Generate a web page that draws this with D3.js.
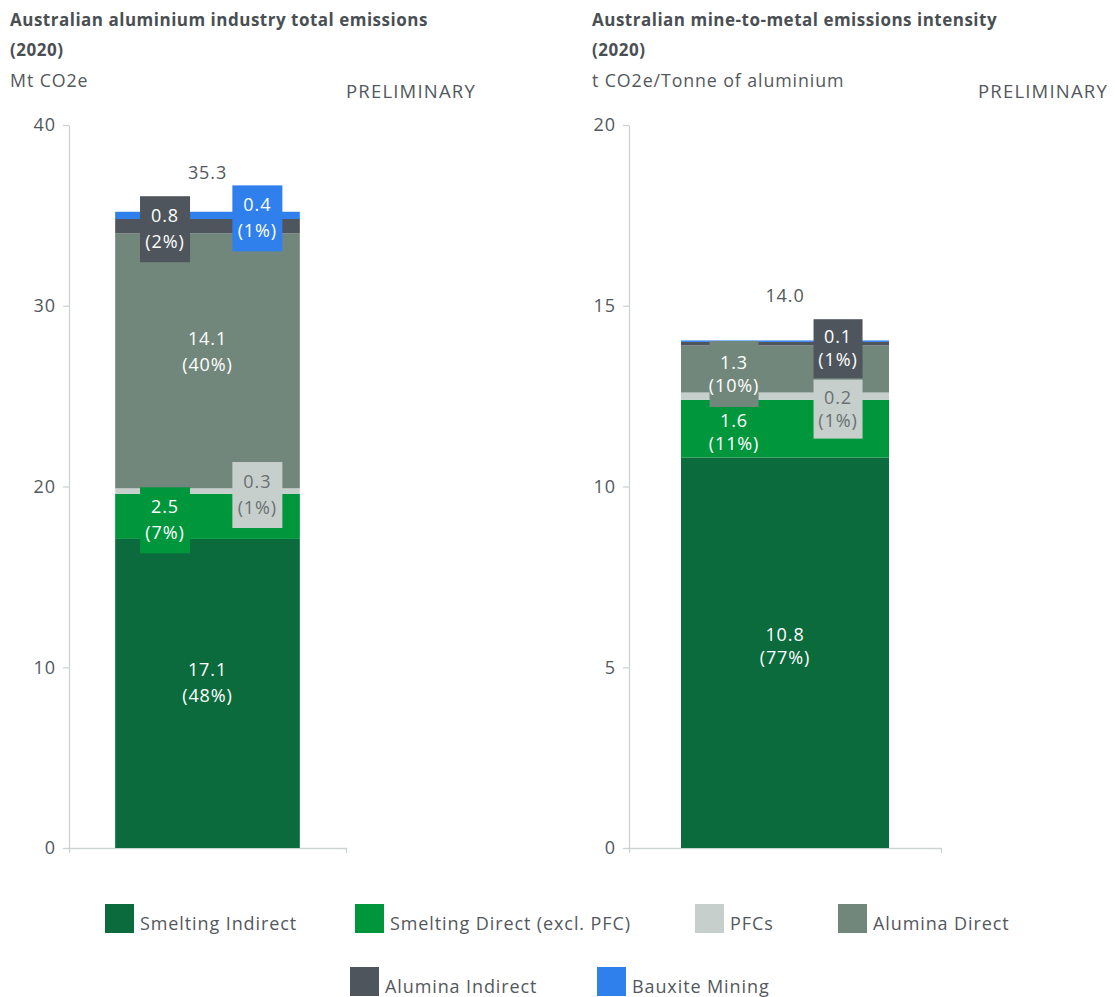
<!DOCTYPE html>
<html>
<head>
<meta charset="utf-8">
<script src="https://cdn.jsdelivr.net/npm/d3@7"></script>
<style>
  html, body { margin: 0; padding: 0; background: #fff; }
  svg { display: block; font-family: "Open Sans", "DejaVu Sans", sans-serif; letter-spacing: 0.9px; }
</style>
</head>
<body>
<svg id="chart" width="1115" height="997"></svg>
<script>
// Emission sources, stacked from the bottom up
const sources = ["Smelting Indirect", "Smelting Direct (excl. PFC)", "PFCs", "Alumina Direct", "Alumina Indirect", "Bauxite Mining"];
const sourceColors = ["#0b6b3c", "#00963c", "#c6cfcc", "#72877b", "#4f555c", "#2f80ec"];

// Total emissions, Mt CO2e (2020)
const totalValues = [17.1, 2.5, 0.3, 14.1, 0.8, 0.4];
const totalShares = [48, 7, 1, 40, 2, 1];
const totalSum = 35.3;
const totalTicks = [0, 10, 20, 30, 40];

// Mine-to-metal intensity, t CO2e per tonne of aluminium (2020)
const intensityValues = [10.8, 1.6, 0.2, 1.3, 0.1, 0.04];
const intensityShares = [77, 11, 1, 10, 1, null];
const intensitySum = 14.0;
const intensityTicks = [0, 5, 10, 15, 20];

const textColor = "#53585d";
const axisColor = "#cdd3d3";

const svg = d3.select("#chart");

// Label placement per segment: plain text or a boxed tag to one side
const totalLabelLayout = [
  { mode: "plain", pos: 0.5, dy: -10 },
  { mode: "box", pos: 0.27, dy: 4 },
  { mode: "box", pos: 0.77, dy: 4 },
  { mode: "plain", pos: 0.5, dy: -9 },
  { mode: "box", pos: 0.27, dy: 3 },
  { mode: "box", pos: 0.77, dy: 3 }
];
const intensityLabelLayout = [
  { mode: "plain", pos: 0.5, dy: -6 },
  { mode: "plain", pos: 0.255, dy: 4 },
  { mode: "box", pos: 0.755, dy: 13 },
  { mode: "box", pos: 0.255, dy: 5, h: 66 },
  { mode: "box", pos: 0.755, dy: 5 },
  { mode: "none" }
];

function drawPanel(opt) {
  const g = svg.append("g");

  // Headings
  g.append("text").attr("x", opt.left).attr("y", 26)
    .attr("font-size", 17).attr("font-weight", 700).attr("fill", "#4a4f54")
    .attr("letter-spacing", "0.5px")
    .text(opt.title);
  g.append("text").attr("x", opt.left).attr("y", 56)
    .attr("font-size", 17).attr("font-weight", 700).attr("fill", "#4a4f54")
    .attr("letter-spacing", "0.5px")
    .text("(2020)");
  g.append("text").attr("x", opt.left).attr("y", 87)
    .attr("font-size", 17.8).attr("fill", textColor)
    .text(opt.unit);
  g.append("text").attr("x", opt.prelimRight).attr("y", 98)
    .attr("font-size", 18.5).attr("fill", textColor).attr("text-anchor", "end")
    .attr("letter-spacing", "1.2px")
    .text("PRELIMINARY");

  const y = d3.scaleLinear().domain([opt.ticks[0], opt.ticks[opt.ticks.length - 1]]).range([848, 125]);
  const x = d3.scaleBand().domain(["2020"]).range([opt.axisX, opt.axisRight]).padding(0.2);

  // Axes
  const yAxis = g.append("g").attr("transform", `translate(${opt.axisX},0)`)
    .call(d3.axisLeft(y).tickValues(opt.ticks).tickSize(6).tickSizeOuter(0).tickPadding(7).tickFormat(d3.format("d")));
  const xAxis = g.append("g").attr("transform", "translate(0,848)")
    .call(d3.axisBottom(x).tickValues([]).tickSizeOuter(5));
  [yAxis, xAxis].forEach(a => {
    a.selectAll("path, line").attr("stroke", axisColor).attr("stroke-width", 1.3);
    a.selectAll("text").attr("fill", textColor).attr("font-size", 18).attr("font-family", "Open Sans, sans-serif");
  });

  // Stack the segments
  let acc = 0;
  const segs = opt.values.map((v, i) => {
    const s = { i, y0: acc, y1: acc + v, v, share: opt.shares[i] };
    acc += v;
    return s;
  });

  const bx = x("2020"), bw = x.bandwidth();
  g.selectAll("rect.seg").data(segs).join("rect").attr("class", "seg")
    .attr("x", bx).attr("width", bw)
    .attr("y", d => y(d.y1)).attr("height", d => y(d.y0) - y(d.y1))
    .attr("fill", d => sourceColors[d.i]);

  // Segment labels
  segs.forEach(d => {
    const L = opt.layout[d.i];
    if (L.mode === "none") return;
    const cx = bx + bw * L.pos;
    const cy = (y(d.y0) + y(d.y1)) / 2 + L.dy;
    const fill = d.i === 2 ? "#6a6f73" : "#ffffff";
    if (L.mode === "box") {
      const bh = L.h || opt.boxH;
      g.append("rect").attr("x", cx - opt.boxW / 2).attr("y", cy - bh / 2)
        .attr("width", opt.boxW).attr("height", bh)
        .attr("fill", sourceColors[d.i]);
    }
    const t = g.append("text").attr("text-anchor", "middle").attr("font-size", 18).attr("fill", fill);
    t.append("tspan").attr("x", cx).attr("y", cy - opt.lineGap / 2 + 6).text(d3.format(".1f")(d.v));
    t.append("tspan").attr("x", cx).attr("y", cy + opt.lineGap / 2 + 6).text(`(${d.share}%)`);
  });

  // Stack total
  g.append("text").attr("x", bx + bw / 2).attr("y", y(opt.sum) - opt.totalGap)
    .attr("text-anchor", "middle").attr("font-size", 18).attr("fill", textColor)
    .text(d3.format(".1f")(opt.sum));
}

drawPanel({
  title: "Australian aluminium industry total emissions",
  unit: "Mt CO2e", left: 10, prelimRight: 476,
  axisX: 69, axisRight: 346,
  values: totalValues, shares: totalShares, sum: totalSum, ticks: totalTicks,
  layout: totalLabelLayout, boxW: 50, boxH: 66, lineGap: 26, totalGap: 31
});
drawPanel({
  title: "Australian mine-to-metal emissions intensity",
  unit: "t CO2e/Tonne of aluminium", left: 592, prelimRight: 1108,
  axisX: 629, axisRight: 941,
  values: intensityValues, shares: intensityShares, sum: intensitySum, ticks: intensityTicks,
  layout: intensityLabelLayout, boxW: 49, boxH: 59, lineGap: 23, totalGap: 40
});

// Legend, two centred rows
const legendRows = [
  { y: 904, items: [0, 1, 2, 3], xs: [105, 355, 695, 838] },
  { y: 967, items: [4, 5], xs: [350, 597] }
];
const legend = svg.append("g");
legendRows.forEach(row => {
  row.items.forEach((si, k) => {
    const lx = row.xs[k];
    legend.append("rect").attr("x", lx).attr("y", row.y).attr("width", 29).attr("height", 29)
      .attr("fill", sourceColors[si]);
    legend.append("text").attr("x", lx + 35).attr("y", row.y + 26)
      .attr("font-size", 18).attr("fill", textColor).text(sources[si]);
  });
});
</script>
</body>
</html>
